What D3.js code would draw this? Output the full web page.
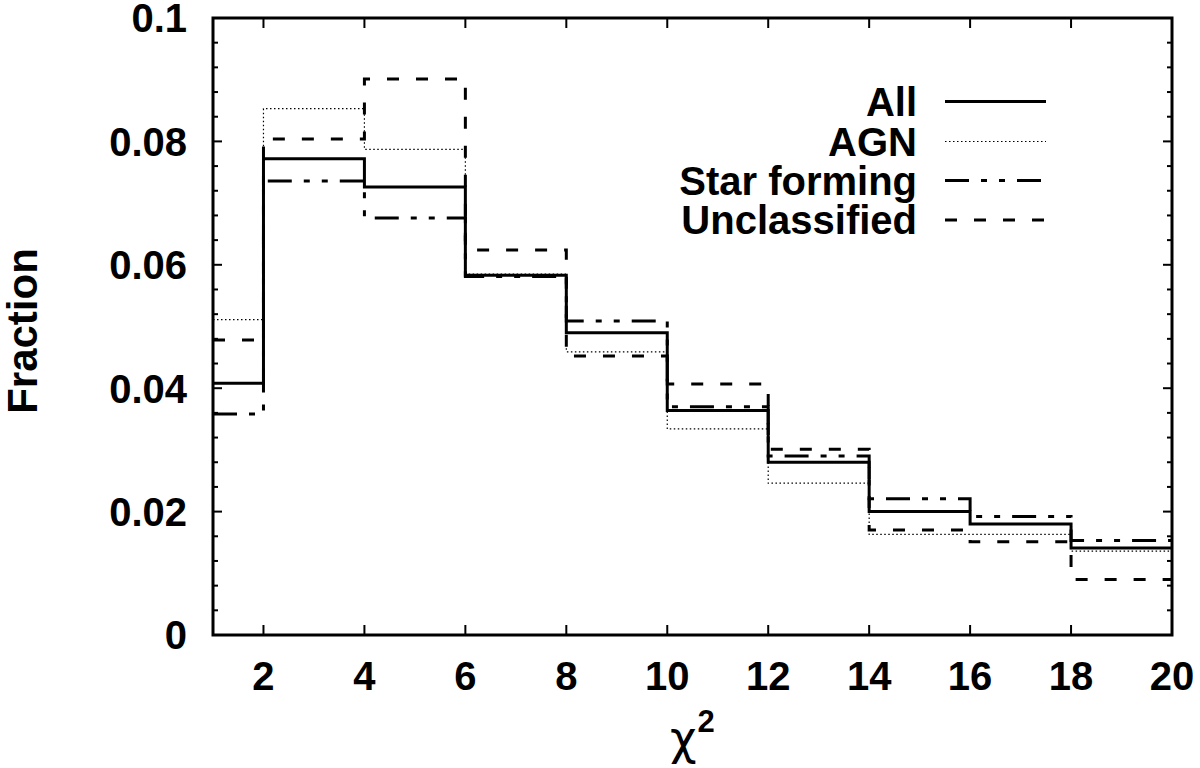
<!DOCTYPE html>
<html>
<head>
<meta charset="utf-8">
<script src="https://cdn.jsdelivr.net/npm/d3@7"></script>
<style>
html,body{margin:0;padding:0;background:#fff;}
svg{display:block;}
text{font-family:"Liberation Sans",Arial,Helvetica,sans-serif;font-weight:bold;fill:#000;}
</style>
</head>
<body>
<svg id="chart" width="1200" height="768"></svg>
<script>
// ---- data ----
const binEdges = [1, 2, 4, 6, 8, 10, 12, 14, 16, 18, 20];
const allValues          = [0.0408, 0.0772, 0.0726, 0.0583, 0.0490, 0.0364, 0.0280, 0.0200, 0.0180, 0.0141];
const agnValues          = [0.0511, 0.0853, 0.0787, 0.0585, 0.0459, 0.0334, 0.0246, 0.0163, 0.0163, 0.0136];
const starFormingValues  = [0.0358, 0.0736, 0.0676, 0.0581, 0.0509, 0.0370, 0.0290, 0.0221, 0.0192, 0.0153];
const unclassifiedValues = [0.0478, 0.0804, 0.0901, 0.0624, 0.0452, 0.0407, 0.0301, 0.0170, 0.0151, 0.0090];
const seriesNames = ["All", "AGN", "Star forming", "Unclassified"];
const xTicks = [2, 4, 6, 8, 10, 12, 14, 16, 18, 20];
const yTicks = [0, 0.02, 0.04, 0.06, 0.08, 0.1];
const yTickLabels = ["0", "0.02", "0.04", "0.06", "0.08", "0.1"];
const yMinorStep = 0.004;

// ---- layout ----
const L = 213, R = 1172, T = 18, B = 635;
const svg = d3.select("#chart");
const x = d3.scaleLinear().domain([1, 20]).range([L, R]);
const y = d3.scaleLinear().domain([0, 0.1]).range([B, T]);

const styles = [
  {w: 3, dash: null},
  {w: 1.2, dash: "1.5,2.5"},
  {w: 3, dash: "24,12,6,12,6,12"},
  {w: 3, dash: "12,17"}
];
const seriesData = [allValues, agnValues, starFormingValues, unclassifiedValues];

svg.append("clipPath").attr("id","clip").append("rect")
  .attr("x", L).attr("y", T).attr("width", R-L).attr("height", B-T);

const line = d3.line().x(d => x(d[0])).y(d => y(d[1])).curve(d3.curveStepAfter);

// draw series (All on top)
const order = [1, 3, 2, 0];
order.forEach(i => {
  const vals = seriesData[i];
  const pts = vals.map((v, k) => [binEdges[k], v]);
  pts.push([binEdges[binEdges.length-1], vals[vals.length-1]]);
  svg.append("path")
    .attr("clip-path","url(#clip)")
    .attr("d", line(pts))
    .attr("fill","none")
    .attr("stroke","#000")
    .attr("stroke-width", styles[i].w)
    .attr("stroke-dasharray", styles[i].dash)
    .attr("stroke-linejoin","miter");
});

// ticks
const tickG = svg.append("g").attr("stroke","#000").attr("stroke-width",2);
xTicks.forEach(t => {
  tickG.append("line").attr("x1", x(t)).attr("x2", x(t)).attr("y1", B).attr("y2", B-10);
  tickG.append("line").attr("x1", x(t)).attr("x2", x(t)).attr("y1", T).attr("y2", T+10);
});
const minor = d3.range(0, 0.1 + 1e-9, yMinorStep);
minor.forEach(t => {
  const isMajor = yTicks.some(m => Math.abs(m - t) < 1e-9);
  const len = isMajor ? 9 : 5;
  tickG.append("line").attr("x1", L).attr("x2", L+len).attr("y1", y(t)).attr("y2", y(t));
  tickG.append("line").attr("x1", R).attr("x2", R-len).attr("y1", y(t)).attr("y2", y(t));
});

// border
svg.append("rect").attr("x", L).attr("y", T).attr("width", R-L).attr("height", B-T)
  .attr("fill","none").attr("stroke","#000").attr("stroke-width",3);

// tick labels
yTicks.forEach((t, k) => {
  svg.append("text").attr("x", 187).attr("y", y(t)).attr("dy","0.36em")
    .attr("text-anchor","end").attr("font-size", 40).text(yTickLabels[k]);
});
xTicks.forEach(t => {
  svg.append("text").attr("x", x(t)).attr("y", 690)
    .attr("text-anchor","middle").attr("font-size", 40).text(t);
});

// axis labels
svg.append("text").attr("transform","translate(37,331) rotate(-90)")
  .attr("text-anchor","middle").attr("font-size", 42).text("Fraction");
const xl = svg.append("text").attr("x", 670).attr("y", 754).attr("font-size", 46);
xl.append("tspan").attr("font-weight","normal").attr("font-family","'DejaVu Sans',sans-serif").text("χ");
xl.append("tspan").attr("font-size", 31).attr("dy", -22).attr("dx", 1).text("2");

// legend
const legY = [101.5, 141.5, 180.5, 220];
seriesNames.forEach((n, i) => {
  svg.append("text").attr("x", 917).attr("y", legY[i]).attr("dy","0.36em")
    .attr("text-anchor","end").attr("font-size", 40).text(n);
  svg.append("line").attr("x1", 945).attr("x2", 1046).attr("y1", legY[i]).attr("y2", legY[i])
    .attr("stroke","#000").attr("stroke-width", styles[i].w)
    .attr("stroke-dasharray", styles[i].dash);
});
</script>
</body>
</html>
